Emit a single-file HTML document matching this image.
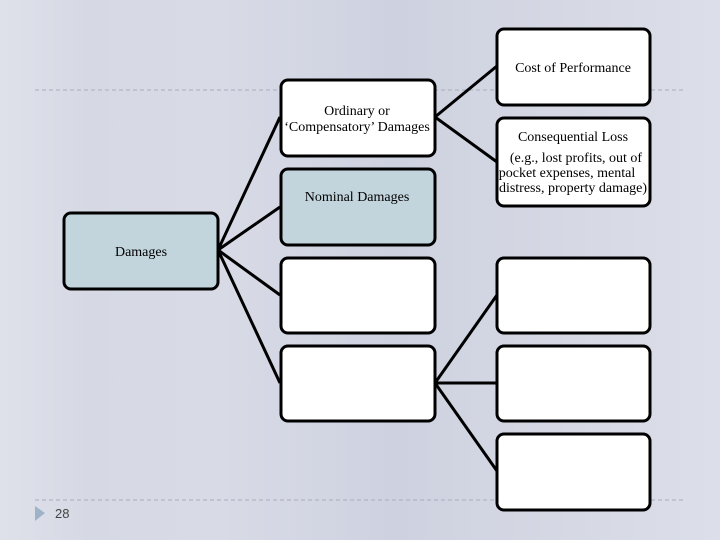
<!DOCTYPE html>
<html><head><meta charset="utf-8"><style>
html,body{margin:0;padding:0;width:720px;height:540px;overflow:hidden}
body{background:linear-gradient(90deg,#dfe1ea 0%,#d6d9e4 12%,#d8dbe6 30%,#ced2e0 55%,#d3d6e2 70%,#dcdfe9 100%)}
</style></head><body>
<svg width="720" height="540" xmlns="http://www.w3.org/2000/svg" style="position:absolute;left:0;top:0">
<g stroke="#a9adbb" stroke-width="1" stroke-dasharray="4,3">
<line x1="35" y1="90" x2="686" y2="90"/>
<line x1="35" y1="500" x2="686" y2="500"/>
</g>
<g stroke="#000" stroke-width="3" fill="none">
<line x1="218" y1="250" x2="280" y2="117"/>
<line x1="218" y1="250" x2="280" y2="207"/>
<line x1="218" y1="250" x2="280" y2="295"/>
<line x1="218" y1="250" x2="280" y2="383"/>
<line x1="435" y1="117" x2="497" y2="66"/>
<line x1="435" y1="117" x2="497" y2="162"/>
<line x1="435" y1="383" x2="497" y2="295"/>
<line x1="435" y1="383" x2="497" y2="383"/>
<line x1="435" y1="383" x2="497" y2="471"/>
</g>
<g stroke="#000" stroke-width="3">
<rect x="64" y="213" width="154" height="76" rx="7" fill="#c2d5dd"/>
<rect x="281" y="80" width="154" height="76" rx="7" fill="#fff"/>
<rect x="281" y="169" width="154" height="76" rx="7" fill="#c2d5dd"/>
<rect x="281" y="258" width="154" height="75" rx="7" fill="#fff"/>
<rect x="281" y="346" width="154" height="75" rx="7" fill="#fff"/>
<rect x="497" y="29" width="153" height="76" rx="7" fill="#fff"/>
<rect x="497" y="118" width="153" height="88" rx="7" fill="#fff"/>
<rect x="497" y="258" width="153" height="75" rx="7" fill="#fff"/>
<rect x="497" y="346" width="153" height="75" rx="7" fill="#fff"/>
<rect x="497" y="434" width="153" height="76" rx="7" fill="#fff"/>
</g>
<g font-family="Liberation Serif, serif" font-size="14" fill="#000" text-anchor="middle">
<text x="141" y="256">Damages</text>
<text x="357" y="115">Ordinary or</text>
<text x="357" y="131">‘Compensatory’ Damages</text>
<text x="357" y="201">Nominal Damages</text>
<text x="573" y="72">Cost of Performance</text>
<text x="573" y="141">Consequential Loss</text>
<text x="576" y="162">(e.g., lost profits, out of</text>
<text x="567" y="177">pocket expenses, mental</text>
<text x="573" y="192">distress, property damage)</text>
</g>
<polygon points="35,506 35,521 45,513" fill="#9fb3c8"/>
<text x="55" y="518" font-family="Liberation Sans, sans-serif" font-size="13" fill="#444">28</text>
</svg>
</body></html>
